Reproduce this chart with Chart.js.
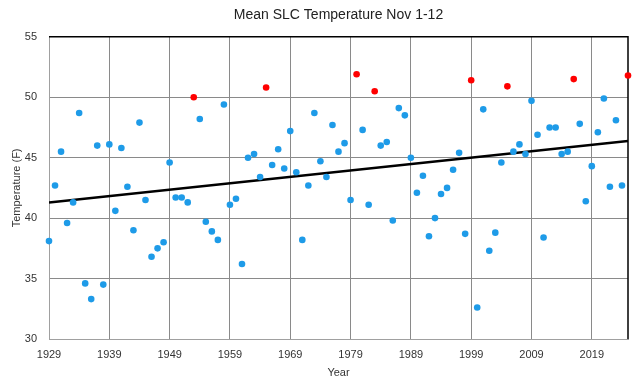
<!DOCTYPE html>
<html>
<head>
<meta charset="utf-8">
<script src="https://cdn.jsdelivr.net/npm/chart.js@4"></script>
<style>
html,body{margin:0;padding:0;background:#fff;}
#wrap{width:640px;height:389px;}
</style>
</head>
<body>
<div id="wrap"><canvas id="c" width="640" height="389"></canvas></div>
<script>
const years = [1929,1930,1931,1932,1933,1934,1935,1936,1937,1938,1939,1940,1941,1942,1943,1944,1945,1946,1947,1948,1949,1950,1951,1952,1953,1954,1955,1956,1957,1958,1959,1960,1961,1962,1963,1964,1965,1966,1967,1968,1969,1970,1971,1972,1973,1974,1975,1976,1977,1978,1979,1980,1981,1982,1983,1984,1985,1986,1987,1988,1989,1990,1991,1992,1993,1994,1995,1996,1997,1998,1999,2000,2001,2002,2003,2004,2005,2006,2007,2008,2009,2010,2011,2012,2013,2014,2015,2016,2017,2018,2019,2020,2021,2022,2023,2024,2025];
const temps = [38.1,42.7,45.5,39.6,41.3,48.7,34.6,33.3,46.0,34.5,46.1,40.6,45.8,42.6,39.0,47.9,41.5,36.8,37.5,38.0,44.6,41.7,41.7,41.3,50.0,48.2,39.7,38.9,38.2,49.4,41.1,41.6,36.2,45.0,45.3,43.4,50.8,44.4,45.7,44.1,47.2,43.8,38.2,42.7,48.7,44.7,43.4,47.7,45.5,46.2,41.5,51.9,47.3,41.1,50.5,46.0,46.3,39.8,49.1,48.5,45.0,42.1,43.5,38.5,40.0,42.0,42.5,44.0,45.4,38.7,51.4,32.6,49.0,37.3,38.8,44.6,50.9,45.5,46.1,45.3,49.7,46.9,38.4,47.5,47.5,45.3,45.5,51.5,47.8,41.4,44.3,47.1,49.9,42.6,48.1,42.7,51.8];
const recordThreshold = 50;
const xTickValues = [1929,1939,1949,1959,1969,1979,1989,1999,2009,2019];
const yTickValues = [30,35,40,45,50,55];

// least-squares trend from the data
const n = years.length;
const mx = years.reduce((a,b)=>a+b,0)/n;
const my = temps.reduce((a,b)=>a+b,0)/n;
let sxy=0,sxx=0;
for(let i=0;i<n;i++){sxy+=(years[i]-mx)*(temps[i]-my);sxx+=(years[i]-mx)*(years[i]-mx);}
const slope=sxy/sxx, icpt=my-slope*mx;
const xMin = years[0], xMax = years[n-1];
const trend = [{x:xMin,y:icpt+slope*xMin},{x:xMax,y:icpt+slope*xMax}];

const pts = years.map((y,i)=>({x:y,y:temps[i]}));
const colors = temps.map(t=> t>=recordThreshold ? '#ff0000' : '#1e9be8');

const borderPlugin = {
  id:'border',
  afterLayout(chart){
    const tb = chart.titleBlock, a = chart.chartArea;
    if (tb && a) { tb.left = a.left; tb.right = a.right; tb.width = a.right - a.left; }
  },
  beforeDatasetsDraw(chart){
    const {ctx, chartArea:a} = chart;
    ctx.save();
    ctx.strokeStyle='#000';
    ctx.lineWidth=1.5;
    ctx.beginPath();
    ctx.moveTo(a.left, a.top);
    ctx.lineTo(a.right, a.top);
    ctx.lineTo(a.right, a.bottom);
    ctx.stroke();
    ctx.restore();
  }
};

new Chart(document.getElementById('c'), {
  type:'scatter',
  data:{
    datasets:[
      {label:'Temperature', data:pts, pointBackgroundColor:colors, pointBorderWidth:0, pointRadius:3.3, pointHoverRadius:3.3, clip:false, order:1},
      {label:'Trend', type:'line', data:trend, borderColor:'#000', borderWidth:2.5, pointRadius:0, fill:false, order:2}
    ]
  },
  options:{
    responsive:false,
    animation:false,
    layout:{padding:{left:0,right:12,top:0,bottom:0}},
    plugins:{
      legend:{display:false},
      tooltip:{enabled:false},
      title:{display:true,text:'Mean SLC Temperature Nov 1-12',color:'#222',font:{family:'Liberation Sans',size:14,weight:'normal'},padding:{top:7,bottom:13}}
    },
    scales:{
      x:{
        type:'linear', min:xMin, max:xMax,
        afterBuildTicks(s){ s.ticks = xTickValues.map(v=>({value:v})); },
        afterFit(s){ s.height = 50; },
        grid:{color:'#8a8a8a', lineWidth:1, drawTicks:false},
        border:{color:'#a0a0a0'},
        ticks:{callback:v=>String(v), color:'#333', font:{family:'Liberation Sans',size:11}, padding:9, maxRotation:0},
        title:{display:true,text:'Year',color:'#333',font:{family:'Liberation Sans',size:11},padding:{top:2,bottom:9}}
      },
      y:{
        min:30, max:55,
        afterBuildTicks(s){ s.ticks = yTickValues.map(v=>({value:v})); },
        afterFit(s){ s.width = 49; },
        grid:{color:'#8a8a8a', lineWidth:1, drawTicks:false},
        border:{color:'#a0a0a0'},
        ticks:{color:'#333', font:{family:'Liberation Sans',size:11}, padding:12},
        title:{display:true,text:'Temperature (F)',color:'#333',font:{family:'Liberation Sans',size:11},padding:{top:10,bottom:0}}
      }
    }
  },
  plugins:[borderPlugin]
});
</script>
</body>
</html>
